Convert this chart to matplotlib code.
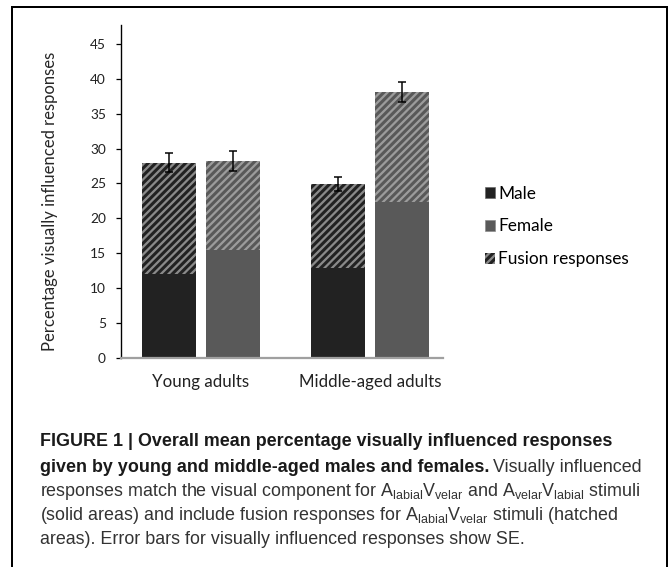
import matplotlib
matplotlib.use("Agg")
import matplotlib.pyplot as plt
import numpy as np
from matplotlib.lines import Line2D
from matplotlib.patches import Patch

W, H, DPI = 671, 567, 90

groups = ["Young adults", "Middle-aged adults"]
series = ["Male", "Female"]
# solid part (visual-component responses) and total incl. fusion responses
solid = {"Male": [12.0, 12.9], "Female": [15.5, 22.4]}
total = {"Male": [28.0, 24.9], "Female": [28.2, 38.1]}
err = {"Male": [1.4, 1.0], "Female": [1.45, 1.45]}
yticks = [0, 5, 10, 15, 20, 25, 30, 35, 40, 45]

COLORS = {"Male": "#222222", "Female": "#595959"}
HATCH_COLORS = {"Male": "#8a8a8a", "Female": "#9c9c9c"}
TEXT_FONT = ["Lato", "DejaVu Sans"]
CAP_FONT = ["Liberation Sans Narrow", "Liberation Sans"]

plt.rcParams["hatch.linewidth"] = 1.8


def px(x, y):
    return x / W, 1 - y / H


fig = plt.figure(figsize=(W / DPI, H / DPI), dpi=DPI)
ax = fig.add_axes([121 / W, 1 - 358 / H, 322 / W, 333 / H])

x = np.arange(len(groups))
offsets = {"Male": -0.188, "Female": 0.19}
width = 0.32
for s in series:
    pos = x + offsets[s]
    sol = np.array(solid[s])
    tot = np.array(total[s])
    ax.bar(pos, sol, width=width, color=COLORS[s], linewidth=0)
    ax.bar(pos, tot - sol, bottom=sol, width=width, facecolor=COLORS[s],
           edgecolor=HATCH_COLORS[s], hatch="////", linewidth=0)
    ax.errorbar(pos, tot, yerr=err[s], fmt="none", ecolor="black",
                elinewidth=1.2, capsize=3.5, capthick=1.2)

ax.set_xlim(-0.469, 1.431)
ax.set_ylim(0, 47.7)
ax.set_yticks(yticks)
ax.set_yticklabels([str(v) for v in yticks], fontsize=11, family=TEXT_FONT, color="#222222")
ax.set_xticks(x)
ax.set_xticklabels(groups, fontsize=13.5, family=TEXT_FONT, color="#222222")
ax.tick_params(axis="x", length=0, pad=13)
ax.tick_params(axis="y", length=4, width=1.0, direction="out", pad=8)
ax.spines[["top", "right"]].set_visible(False)
ax.spines["left"].set_linewidth(1.1)
ax.spines["bottom"].set_color("#a0a0a0")
ax.spines["bottom"].set_linewidth(1.8)
ax.set_ylabel("Percentage visually influenced responses", fontsize=13.3,
              family=TEXT_FONT, color="#262626")
ax.yaxis.set_label_coords(-0.196, 0.471)

handles = [
    Patch(facecolor=COLORS["Male"], edgecolor="#666666", linewidth=0.5),
    Patch(facecolor=COLORS["Female"], edgecolor="#888888", linewidth=0.5),
    Patch(facecolor=COLORS["Male"], edgecolor="#8a8a8a", hatch="////", linewidth=0),
]
fig.legend(handles, ["Male", "Female", "Fusion responses"], loc="upper left",
           bbox_to_anchor=px(469, 170), frameon=False, handlelength=0.6,
           handleheight=0.6, handletextpad=0.2, labelspacing=0.98,
           prop={"family": TEXT_FONT, "size": 13.8})

# frame round the figure (open at the bottom)
for xs, ys in [((12, 12), (7, H)), ((12, 667), (7, 7)), ((667, 667), (7, H))]:
    fig.add_artist(Line2D([v / W for v in xs], [1 - v / H for v in ys],
                          color="black", lw=1.6, transform=fig.transFigure))

CAP_SIZE = 14.3
cap = dict(fontsize=CAP_SIZE, family=CAP_FONT, color="#1a1a1a", va="center", ha="left")
cap_n = dict(cap, color="#333333")
fig.text(*px(40, 442), "FIGURE 1 | Overall mean percentage visually influenced responses",
         fontweight="bold", **cap)
t2 = fig.text(*px(40, 467), "given by young and middle-aged males and females.",
              fontweight="bold", **cap)
ax.annotate("Visually influenced", xy=(1, 0), xycoords=t2, xytext=(3.0, 0),
            textcoords="offset points", va="bottom", ha="left",
            fontsize=CAP_SIZE, family=CAP_FONT, color="#333333", annotation_clip=False)
fig.text(*px(40, 491), r"responses match the visual component for "
         r"$\mathregular{A_{labial}V_{velar}}$ and $\mathregular{A_{velar}V_{labial}}$ stimuli",
         **cap_n)
fig.text(*px(40, 515), r"(solid areas) and include fusion responses for "
         r"$\mathregular{A_{labial}V_{velar}}$ stimuli (hatched", **cap_n)
fig.text(*px(40, 540), "areas). Error bars for visually influenced responses show SE.", **cap_n)

fig.savefig("out.png", dpi=DPI)
